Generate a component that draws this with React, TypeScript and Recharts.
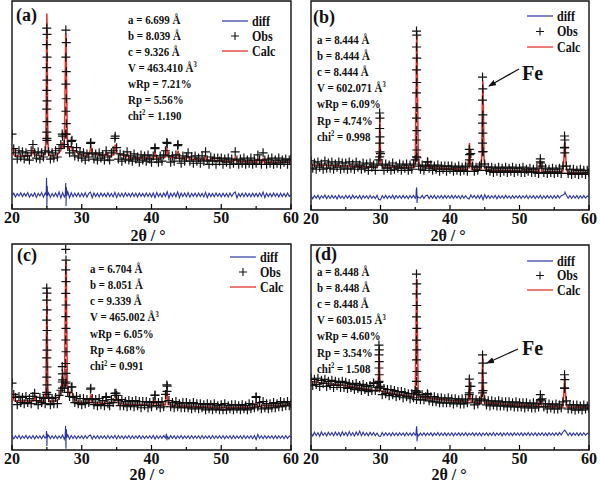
import React from 'react';
import { ComposedChart, Line, Scatter, XAxis, YAxis, ReferenceArea } from 'recharts';

// ---------- data ----------
const gridStart = 20;
const gridStep = 0.25;
const tickValues = [20, 25, 30, 35, 40, 45, 50, 55, 60];
const legendLabels = ['diff', 'Obs', 'Calc'];
const panelLetters = ['(a)', '(b)', '(c)', '(d)'];
const xAxisTitle = '2θ / °';
const feLabel = 'Fe';

const paramsA = ['a = 6.699 Å', 'b = 8.039 Å', 'c = 9.326 Å', 'V = 463.410 Å^3', 'wRp = 7.21%', 'Rp = 5.56%', 'chi^2 = 1.190'];
const paramsB = ['a = 8.444 Å', 'b = 8.444 Å', 'c = 8.444 Å', 'V = 602.071 Å^3', 'wRp = 6.09%', 'Rp = 4.74%', 'chi^2 = 0.998'];
const paramsC = ['a = 6.704 Å', 'b = 8.051 Å', 'c = 9.339 Å', 'V = 465.002 Å^3', 'wRp = 6.05%', 'Rp = 4.68%', 'chi^2 = 0.991'];
const paramsD = ['a = 8.448 Å', 'b = 8.448 Å', 'c = 8.448 Å', 'V = 603.015 Å^3', 'wRp = 4.60%', 'Rp = 3.54%', 'chi^2 = 1.508'];

// Panel (a)
const obsA = [
  36, 29, 27, 24, 28, 25, 27.5, 24, 27, 25.5, 23.5, 28, 31, 27, 24.5, 27.5, 24, 27, 25, 28,
  34, 27.5, 24, 27, 24.5, 28, 25, 29, 31, 35, 31, 36, 30, 27, 32.5, 28, 25.5, 29.5, 25, 27.5,
  24.5, 27, 23.5, 26.5, 25, 31.5, 27, 24, 26.5, 23.5, 27, 24.5, 26, 23.5, 28, 25, 23.5, 27, 28, 34,
  29.5, 24, 26.5, 23, 26, 24, 27.5, 23.5, 25.5, 23, 26.5, 24, 25, 22.5, 26, 23.5, 25.5, 23, 26, 24,
  22.5, 25.5, 29, 24, 22.5, 25.5, 23, 26, 28, 31.5, 25.5, 22.5, 25.5, 23, 26, 30.5, 24.5, 22, 25.5, 23,
  25, 27, 23, 25, 22, 25.5, 23, 24.5, 22, 25.5, 23, 27.5, 23.5, 21.5, 25, 23, 24.5, 21.5, 24.5, 23,
  24.5, 21.5, 24, 22.5, 24.5, 21.5, 24, 22, 27.5, 23.5, 21.5, 24, 22, 24.5, 21.5, 23.5, 22, 24.5, 21.5, 23.5,
  22, 26, 23.5, 21.5, 27, 23.5, 21.5, 24, 22, 24.5, 21.5, 23.5, 22, 24.5, 21.5, 23.5, 22.5, 24, 21.5, 23.5,
  24,
];
const obsPeaksA: [number, number][] = [
  [24.98, 87], [25.02, 84], [24.98, 79], [25.02, 73], [24.98, 68], [25.02, 62], [24.98, 57], [25.02, 52],
  [24.98, 48], [25.02, 42], [24.98, 37], [25.02, 33],
  [27.72, 86], [27.78, 80], [27.72, 73], [27.78, 66], [27.72, 60], [27.78, 53], [27.72, 47], [27.78, 41], [27.72, 36],
  [27.2, 36], [28.6, 33], [31.3, 32], [34.8, 35], [42.2, 32], [43.8, 31], [40.5, 29.5],
];
const calcA: [number, number][] = [
  [20, 30], [20.1, 27], [20.4, 25.5], [22, 25.5], [22.8, 26], [23, 28.5], [23.2, 26], [24.5, 25.5], [24.8, 27],
  [24.9, 45], [24.95, 80], [25.0, 94], [25.05, 80], [25.1, 45], [25.2, 27], [25.5, 25.5], [26.5, 26], [27.0, 28],
  [27.2, 32], [27.35, 29], [27.5, 33], [27.6, 55], [27.7, 84], [27.75, 84], [27.85, 55], [27.95, 32], [28.1, 29],
  [28.5, 30], [28.7, 28], [29.2, 28], [29.5, 26.5], [30.5, 25.5], [31.1, 26.5], [31.3, 30], [31.5, 26.5],
  [33.3, 25.5], [33.5, 27.5], [33.7, 25.5], [34.6, 26], [34.8, 31], [35.0, 27], [36.4, 25], [36.6, 26.5],
  [36.8, 24.5], [40.3, 24.5], [40.5, 27], [40.7, 24.5], [42.0, 25], [42.2, 29.5], [42.4, 25], [43.6, 24.5],
  [43.8, 28], [44.0, 24.5], [45.0, 24], [45.2, 25.5], [45.4, 24], [47.5, 23.5], [47.7, 25.5], [47.9, 23.5],
  [51.8, 23], [52.0, 25], [52.2, 23], [55.1, 22.5], [55.3, 24], [55.5, 22.5], [55.9, 22.5], [56.0, 24.5],
  [56.2, 22.5], [60, 22.5],
];
const diffA = [
  6.0, 7.6, 5.8, 7.4, 6.3, 7.8, 5.9, 7.5, 6.2, 7.9, 5.7, 7.3, 6.1, 7.8, 5.6, 7.5, 6.3, 7.9, 5.7, 7.6,
  6.7, 7.8, 5.6, 7.5, 6.0, 7.7, 5.9, 8.2, 5.3, 7.9, 5.8, 6.7, 8.3, 5.4, 7.8, 5.9, 7.6, 6.0, 7.7, 5.9,
  7.6, 5.9, 7.8, 5.7, 7.5, 8.1, 5.4, 7.7, 6.0, 7.6, 5.8, 7.7, 6.1, 7.5, 5.9, 7.8, 6.0, 7.5, 5.8, 8.0,
  5.6, 7.7, 6.0, 7.6, 5.8, 7.8, 6.1, 7.5, 5.9, 7.7, 6.0, 7.6, 5.8, 7.7, 6.1, 7.5, 5.9, 7.7, 6.0, 7.6,
  5.8, 7.7, 5.5, 7.9, 6.0, 7.5, 5.8, 7.7, 6.1, 8.3, 5.3, 7.5, 6.0, 7.7, 5.9, 8.2, 5.4, 7.6, 6.0, 7.7,
  5.9, 7.8, 5.7, 7.5, 6.1, 7.6, 5.9, 7.7, 6.0, 7.5, 5.8, 8.0, 5.5, 7.6, 6.0, 7.5, 5.9, 7.7, 6.1, 7.5,
  5.9, 7.6, 6.0, 7.5, 5.8, 7.7, 6.1, 7.5, 8.2, 5.3, 7.4, 6.0, 7.6, 5.9, 7.7, 6.0, 7.5, 5.9, 7.6, 6.0,
  7.5, 5.9, 7.7, 6.0, 8.1, 5.5, 7.6, 6.0, 7.5, 5.9, 7.7, 6.1, 7.5, 5.8, 7.6, 6.0, 7.5, 5.9, 7.7, 6.1,
  6.8,
];
const diffSpikesA: [number, number][] = [
  [24.9, 6.8], [24.95, 15], [25.0, 0.8], [25.05, 11], [25.1, 6.3],
  [27.65, 7], [27.7, 12.5], [27.75, 1.5], [27.8, 10.5], [27.85, 6.5],
];

// Panel (b)
const obsB = [
  23.5, 20, 22.5, 19.5, 23, 20.5, 22, 19.5, 23.5, 20, 22.5, 20, 23, 19.5, 22, 20.5, 23, 19.5, 22.5, 20,
  22.5, 19.5, 23, 20, 22, 19.5, 23, 20.5, 21.5, 19.5, 22.5, 20, 22, 19, 22.5, 20.5, 21.5, 19, 22, 24,
  27, 21.5, 19, 22, 20, 21.5, 19, 22.5, 19.5, 21, 20, 22, 19, 21.5, 20, 22, 19, 21.5, 19.5, 22,
  24, 25, 21, 19.5, 21.5, 19, 21, 23, 20, 21.5, 19, 21, 19.5, 21.5, 18.5, 21, 19.5, 21, 18.5, 21,
  19.5, 21, 18.5, 20.5, 19, 21, 18.5, 20.5, 19, 21, 18.5, 22, 27, 21, 18.5, 20.5, 19, 21, 22, 28,
  22, 19, 20.5, 18.5, 20.5, 18, 20, 18.5, 20.5, 18, 20, 18.5, 20.5, 18, 20, 18.5, 20.5, 18, 20, 18.5,
  20, 18, 20.5, 18, 19.5, 18.5, 20, 18, 19.5, 18, 20, 17.5, 23, 21, 18, 20, 17.5, 19.5, 18, 20,
  17.5, 19.5, 18, 20, 17.5, 21, 30, 21, 17.5, 19.5, 17, 19.5, 17.5, 19, 17, 19.5, 17.5, 19, 17, 19,
  18,
];
const obsPeaksB: [number, number][] = [
  [29.88, 46.4], [29.92, 44], [29.88, 39], [29.92, 35], [29.88, 32], [29.92, 27.8], [29.88, 25.4],
  [35.18, 85.6], [35.22, 83.7], [35.18, 78], [35.22, 72.7], [35.18, 67], [35.22, 61], [35.18, 56],
  [35.22, 49], [35.18, 44], [35.22, 38], [35.18, 33.5], [35.22, 28.7], [35.18, 25.4],
  [44.68, 63.6], [44.72, 58], [44.68, 52.6], [44.72, 45.5], [44.68, 41.6], [44.72, 36.8], [44.68, 32], [44.72, 27.8],
  [42.78, 29], [42.82, 26.5], [42.8, 24],
  [56.48, 35.4], [56.52, 33.5], [56.48, 29.7], [56.52, 27.3],
  [53.0, 24.5], [53.02, 22.5], [36.8, 23],
];
const calcB: [number, number][] = [
  [20, 21.5], [25, 21], [29.5, 20.5], [29.75, 22], [29.85, 35], [29.9, 45.5], [29.95, 35], [30.05, 22],
  [30.3, 20.5], [34.9, 20.3], [35.0, 23], [35.1, 50], [35.2, 83], [35.25, 83], [35.35, 50], [35.45, 24],
  [35.7, 21], [36.6, 20.3], [36.8, 22.5], [37, 20.2], [42.5, 19.5], [42.7, 25], [42.8, 32], [42.9, 25],
  [43.1, 19.5], [44.4, 19.2], [44.55, 24], [44.65, 50], [44.72, 62], [44.8, 50], [44.9, 24], [45.1, 19.2],
  [52.8, 18.4], [53.0, 24], [53.2, 18.4], [56.2, 18.2], [56.35, 22], [56.5, 33], [56.6, 30], [56.7, 22],
  [56.9, 18], [60, 17.8],
];
const diffB = [
  7.0, 5.4, 6.9, 5.6, 7.1, 5.3, 6.8, 5.7, 7.2, 5.4, 6.9, 5.5, 7.0, 5.6, 6.8, 5.3, 7.1, 5.6, 6.7, 5.4,
  7.0, 5.6, 6.9, 5.4, 7.1, 5.6, 6.7, 5.5, 7.0, 5.3, 6.9, 5.7, 6.8, 5.4, 7.0, 5.6, 6.6, 5.5, 7.0, 5.0,
  4.8, 6.9, 5.6, 7.0, 5.5, 6.8, 5.6, 7.1, 5.4, 6.9, 5.7, 6.8, 5.5, 7.0, 5.6, 6.8, 5.4, 6.9, 5.7, 7.0,
  5.6, 7.3, 6.0, 5.7, 7.0, 5.5, 6.8, 7.1, 5.5, 6.9, 5.6, 7.0, 5.4, 6.8, 5.7, 6.9, 5.5, 7.0, 5.6, 6.8,
  5.6, 7.0, 5.5, 6.9, 5.7, 6.8, 5.4, 7.0, 5.6, 6.8, 5.7, 5.3, 7.2, 5.8, 6.9, 5.5, 7.0, 5.6, 7.1, 4.9,
  7.3, 5.6, 6.9, 5.5, 6.8, 5.7, 7.0, 5.4, 6.9, 5.6, 6.8, 5.5, 7.0, 5.7, 6.7, 5.5, 6.9, 5.6, 6.8, 5.7,
  6.9, 5.5, 6.8, 5.7, 7.0, 5.4, 6.8, 5.7, 6.9, 5.5, 6.7, 5.7, 7.0, 5.4, 6.8, 5.6, 6.9, 5.7, 6.8, 5.5,
  6.9, 5.6, 7.0, 5.7, 6.8, 7.2, 7.9, 7.0, 5.6, 6.9, 5.5, 6.8, 5.7, 6.9, 5.5, 6.8, 5.6, 6.9, 5.7, 6.7,
  6.2,
];
const diffSpikesB: [number, number][] = [
  [35.1, 6.5], [35.15, 9.5], [35.2, 10.8], [35.25, 3.4], [35.3, 5.5], [35.35, 6.4], [56.45, 7.6], [56.55, 8.5],
];

// Panel (c)
const obsC = [
  32.5, 27, 25.5, 22, 26, 23, 25.5, 22.5, 26, 23, 25, 22.5, 26, 27.5, 24, 22, 25.5, 23, 25, 22.5,
  27, 25.5, 22, 25, 22.5, 25.5, 22.5, 26.5, 29, 34, 30, 33, 28, 26, 30.5, 25.5, 23, 26, 22.5, 25,
  22, 25, 22.5, 24.5, 23, 29.5, 25, 22, 24.5, 21.5, 25, 22, 24, 21.5, 25.5, 22.5, 21.5, 24.5, 23, 27.5,
  26.5, 24, 21.5, 24.5, 21.5, 23.5, 21, 24, 21.5, 23.5, 21, 24, 21.5, 23.5, 20.5, 23.5, 21.5, 23.5, 20.5, 23,
  21, 23.5, 26.5, 21.5, 23, 20.5, 23.5, 21, 27, 31, 24, 21, 23, 20.5, 23.5, 21, 22.5, 20.5, 23, 20.5,
  23, 20.5, 22.5, 20, 23, 20.5, 22.5, 20, 22.5, 20.5, 22, 19.5, 22.5, 20, 22, 19.5, 22.5, 20, 21.5, 19.5,
  22, 19.5, 22.5, 19.5, 21.5, 20, 22, 19.5, 22, 20, 21.5, 19.5, 22, 20, 21.5, 19.5, 22.5, 20, 22, 20.5,
  25.5, 21, 23, 20, 23.5, 20.5, 22.5, 20, 22.5, 20.5, 23, 20.5, 22.5, 21, 23.5, 21, 23, 21.5, 23.5, 21.5,
  22.5,
];
const obsPeaksC: [number, number][] = [
  [24.98, 78.6], [25.02, 76.2], [24.98, 72.8], [25.02, 68], [24.98, 63], [25.02, 58], [24.98, 53.4],
  [25.02, 48.5], [24.98, 44.7], [25.02, 40.3], [24.98, 35.4], [25.02, 31.6], [24.98, 28],
  [27.7, 97.4], [27.74, 92.2], [27.7, 87.4], [27.74, 81.7], [27.7, 76], [27.74, 70.4], [27.7, 64.7],
  [27.74, 59], [27.7, 53.4], [27.74, 47.7], [27.7, 42], [27.74, 37.2], [27.7, 32.4],
  [27.2, 40.5], [27.22, 37], [27.2, 33], [27.22, 30],
  [28.6, 30.7], [31.3, 30], [33.5, 25.9], [34.9, 27.6], [40.5, 26.7], [42.2, 31.6], [42.22, 28.5], [55.0, 25.9],
];
const calcC: [number, number][] = [
  [20, 28], [20.15, 24.5], [20.5, 23.8], [23.1, 23.8], [23.3, 26], [23.5, 23.7], [24.7, 23.6], [24.85, 30],
  [24.95, 60], [25.0, 77.5], [25.05, 60], [25.15, 30], [25.3, 23.5], [26.5, 24], [27.0, 27], [27.2, 36],
  [27.35, 30], [27.55, 40], [27.65, 75], [27.72, 92], [27.78, 90], [27.85, 60], [27.95, 32], [28.2, 27],
  [28.6, 28.5], [28.8, 25], [29.5, 23], [31.1, 23], [31.3, 27], [31.5, 23], [33.3, 22.5], [33.5, 24],
  [33.7, 22.5], [34.7, 23], [34.9, 26], [35.2, 24], [35.5, 22.3], [40.3, 21.7], [40.5, 24.5], [40.7, 21.7],
  [42, 22], [42.2, 29], [42.4, 22], [43.4, 21.5], [43.6, 23], [43.8, 21.5], [48, 20.8], [50, 20.5],
  [54.8, 20.5], [55, 23], [55.2, 20.8], [56, 21.5], [58, 21.5], [60, 22],
];
const diffC = [
  7.0, 5.5, 6.9, 5.6, 7.1, 5.4, 6.8, 5.7, 7.1, 5.5, 6.8, 5.6, 7.0, 5.4, 6.9, 5.7, 6.8, 5.5, 7.1, 5.7,
  6.3, 7.2, 5.5, 6.9, 5.6, 7.0, 5.5, 6.8, 5.7, 7.3, 5.2, 6.3, 7.3, 5.4, 7.0, 5.6, 6.9, 5.5, 6.8, 5.7,
  6.9, 5.5, 7.0, 5.6, 6.8, 7.3, 5.3, 6.9, 5.6, 7.0, 5.5, 6.8, 5.7, 6.9, 5.5, 7.0, 5.6, 6.8, 5.7, 7.1,
  5.4, 7.0, 5.6, 6.9, 5.5, 6.8, 5.7, 7.0, 5.5, 6.9, 5.6, 6.8, 5.7, 7.0, 5.5, 6.9, 5.6, 6.8, 5.7, 6.9,
  5.6, 7.1, 5.3, 6.9, 5.6, 6.8, 5.7, 7.0, 5.8, 6.3, 5.4, 7.0, 5.7, 6.9, 5.5, 6.8, 5.7, 7.0, 5.5, 6.8,
  5.7, 6.9, 5.5, 7.0, 5.6, 6.8, 5.7, 6.9, 5.5, 7.0, 5.6, 6.8, 5.7, 6.9, 5.5, 7.0, 5.6, 6.8, 5.7, 6.9,
  5.6, 7.0, 5.5, 6.8, 5.7, 6.9, 5.5, 7.0, 5.6, 6.8, 5.7, 6.9, 5.5, 7.0, 5.6, 6.8, 5.7, 6.9, 5.5, 7.0,
  5.1, 7.5, 5.6, 6.9, 5.5, 7.0, 5.6, 6.8, 5.7, 6.9, 5.5, 7.0, 5.6, 6.8, 5.7, 6.9, 5.5, 7.0, 5.6, 6.8,
  6.3,
];
const diffSpikesC: [number, number][] = [
  [24.9, 6.5], [24.95, 9.2], [25.0, 2], [25.05, 8], [25.1, 6.2],
  [27.62, 6.6], [27.68, 11.7], [27.74, 0.6], [27.8, 10], [27.86, 6],
  [42.15, 7.9], [42.22, 4.8], [42.3, 6.5],
];

// Panel (d)
const obsD = [
  35, 31.5, 34.5, 32, 35, 31, 34, 32.5, 34.5, 31, 33.5, 31.5, 34, 30.5, 33.5, 31.5, 33, 30.5, 33.5, 30.5,
  33, 30, 32.5, 30.5, 32, 29.5, 32.5, 30, 31.5, 29, 32, 29.5, 31, 28.5, 31.5, 29, 32.5, 29, 30.5, 33,
  31, 27, 30, 27.5, 29.5, 26.5, 29.5, 27, 29, 26, 28.5, 26.5, 28.5, 25.5, 28, 26, 27.5, 25, 27.5, 25.5,
  29, 28, 27, 24.5, 27, 24.5, 26, 27.5, 24, 26, 23.5, 26, 23.5, 25.5, 23, 25.5, 23, 25, 23, 25.5,
  23, 25, 22.5, 25, 23, 24.5, 22.5, 25, 22.5, 24.5, 23, 27, 31, 25, 22, 24.5, 22.5, 24, 25, 29,
  24.5, 22, 24, 21.5, 24, 22, 23.5, 21.5, 24, 21.5, 23.5, 21.5, 23.5, 21, 23.5, 21.5, 23, 21, 23.5, 21,
  23, 21, 23, 20.5, 23, 21, 22.5, 20.5, 23, 20.5, 22.5, 21, 24, 25, 21, 22.5, 20, 22.5, 20.5, 22,
  20, 22.5, 20, 22, 20.5, 23.5, 30, 24, 20, 22, 20, 22, 19.5, 22, 20, 21.5, 19.5, 22, 20, 21.5,
  20.5,
];
const obsPeaksD: [number, number][] = [
  [29.78, 51.2], [29.82, 48.8], [29.78, 46.4], [29.82, 43.1], [29.78, 40], [29.82, 36.7], [29.78, 33.5], [29.82, 30.3],
  [29.0, 32.7],
  [35.18, 85.8], [35.22, 81], [35.18, 76.2], [35.22, 70.5], [35.18, 64.9], [35.22, 59.3], [35.18, 53.6],
  [35.22, 48.8], [35.18, 44], [35.22, 38.3], [35.18, 33.5], [35.22, 28.7], [35.18, 24.6],
  [36.8, 27],
  [42.78, 34.6], [42.82, 31], [42.78, 27.9],
  [44.68, 46.4], [44.72, 42.4], [44.68, 37.5], [44.72, 32.7], [44.68, 27.9],
  [53.0, 27], [53.02, 24.6],
  [56.48, 36.7], [56.52, 34.3], [56.48, 30.3],
];
const calcD: [number, number][] = [
  [20, 33.5], [22, 32.5], [25, 31.3], [27.5, 30], [29, 29.2], [29.55, 29], [29.7, 36], [29.8, 48.5],
  [29.9, 36], [30.05, 28.7], [32, 27.3], [34.8, 26], [35.0, 30], [35.1, 55], [35.18, 83], [35.24, 83],
  [35.32, 55], [35.42, 30], [35.6, 26], [36.6, 25.3], [36.8, 27], [37, 25.2], [40, 24.2], [42.55, 23.5],
  [42.7, 28], [42.8, 34], [42.9, 28], [43.05, 23.4], [44.45, 23.1], [44.6, 32], [44.7, 46], [44.8, 32],
  [44.95, 23], [48, 22.3], [52.8, 21.4], [53.0, 26], [53.2, 21.4], [56.2, 21], [56.35, 26], [56.5, 35.5],
  [56.65, 26], [56.8, 21], [60, 20.6],
];
const diffD = [
  8.3, 6.8, 8.7, 7.0, 8.5, 6.7, 8.8, 7.1, 8.4, 6.8, 8.7, 7.2, 8.5, 6.9, 8.8, 7.1, 8.6, 6.8, 8.9, 7.2,
  8.6, 6.9, 9.0, 7.1, 8.5, 6.8, 8.8, 7.2, 9.2, 7.0, 8.7, 7.1, 8.4, 6.9, 8.6, 7.2, 8.5, 7.0, 8.3, 6.8,
  6.6, 8.5, 7.0, 8.4, 7.1, 8.3, 6.9, 8.5, 7.1, 8.3, 7.0, 8.4, 7.2, 8.3, 6.9, 8.5, 7.1, 8.3, 7.0, 8.4,
  7.2, 8.7, 6.9, 8.3, 7.1, 8.4, 7.0, 8.3, 7.2, 8.4, 6.9, 8.3, 7.2, 8.5, 7.0, 8.3, 7.1, 8.4, 7.0, 8.3,
  7.1, 8.4, 6.9, 8.3, 7.2, 8.4, 7.0, 8.3, 7.1, 8.5, 7.0, 8.2, 7.3, 8.4, 7.0, 8.3, 7.1, 8.4, 6.9, 8.3,
  7.2, 8.4, 7.0, 8.3, 7.1, 8.5, 7.0, 8.3, 7.2, 8.4, 6.9, 8.3, 7.2, 8.4, 7.1, 8.3, 7.0, 8.4, 7.2, 8.3,
  7.1, 8.4, 7.0, 8.3, 7.2, 8.5, 7.0, 8.3, 7.1, 8.4, 7.0, 8.3, 7.2, 8.4, 7.1, 8.3, 7.0, 8.4, 7.2, 8.3,
  7.1, 8.4, 7.2, 8.5, 7.3, 8.8, 9.7, 8.6, 7.1, 8.4, 7.0, 8.3, 7.2, 8.4, 7.0, 8.3, 7.1, 8.4, 7.2, 8.2,
  7.7,
];
const diffSpikesD: [number, number][] = [
  [35.1, 7.8], [35.15, 10], [35.2, 11.6], [35.25, 4.3], [35.3, 6.5], [35.35, 7.7],
];

// ---------- helpers ----------
type P = { x: number; y: number };
const gridPoints = (vals: number[]): P[] =>
  vals.map((y, i) => ({ x: Math.round((gridStart + i * gridStep) * 100) / 100, y }));
const pairPoints = (arr: [number, number][]): P[] => arr.map(([x, y]) => ({ x, y }));
const mergeSorted = (a: P[], b: P[]): P[] => [...a, ...b].sort((p, q) => p.x - q.x);

const FONT = "'Liberation Serif', 'Times New Roman', serif";
const RED = '#e0332c';
const BLUE = '#2b34a2';
const BLACK = '#111111';

const Plus = (props: any) => {
  const { cx, cy } = props;
  if (cx == null || cy == null) return null;
  return <path d={`M${cx - 4.5},${cy}h9M${cx},${cy - 4.5}v9`} stroke={BLACK} strokeWidth={1.2} fill="none" />;
};

const renderSup = (s: string) => {
  const i = s.indexOf('^');
  if (i < 0) return s;
  return (
    <>
      {s.slice(0, i)}
      <span style={{ fontSize: '0.6em', position: 'relative', top: '-0.6em' }}>{s[i + 1]}</span>
      {s.slice(i + 2)}
    </>
  );
};

type PanelCfg = {
  left: number;
  top: number;
  width: number;
  height: number;
  margin: { top: number; right: number; bottom: number; left: number };
  axisH: number;
  obs: P[];
  calc: P[];
  diff: P[];
};

const Panel = ({ cfg }: { cfg: PanelCfg }) => {
  const plotBottom = cfg.height - cfg.axisH;
  const renderTick = (p: any) => {
    const v = p.payload.value;
    const major = v % 10 === 0;
    return (
      <g>
        <line x1={p.x} x2={p.x} y1={plotBottom} y2={plotBottom - (major ? 5 : 3)} stroke="#000" strokeWidth={1.2} />
        {major && (
          <text x={p.x} y={plotBottom + 14} textAnchor="middle" fontFamily={FONT} fontWeight="bold" fontSize={16} fill="#111">
            {v}
          </text>
        )}
      </g>
    );
  };
  return (
    <div style={{ position: 'absolute', left: cfg.left, top: cfg.top }}>
      <ComposedChart width={cfg.width} height={cfg.height} margin={cfg.margin}>
        <XAxis
          type="number"
          dataKey="x"
          domain={[20, 60]}
          ticks={tickValues}
          interval={0}
          height={cfg.axisH}
          tickLine={false}
          axisLine={false}
          tickSize={0}
          tickMargin={0}
          tick={renderTick}
          allowDataOverflow
        />
        <YAxis type="number" domain={[0, 100]} hide allowDataOverflow />
        <ReferenceArea x1={20} x2={60} y1={0} y2={100} fill="none" stroke="#111" strokeWidth={1.4} />
        <Scatter data={cfg.obs} dataKey="y" shape={Plus} isAnimationActive={false} />
        <Line data={cfg.calc} dataKey="y" type="linear" stroke={RED} strokeWidth={1.5} dot={false} activeDot={false} isAnimationActive={false} />
        <Line data={cfg.diff} dataKey="y" type="linear" stroke={BLUE} strokeWidth={1.1} dot={false} activeDot={false} isAnimationActive={false} />
      </ComposedChart>
    </div>
  );
};

const LegendBox = ({ x, y, gap }: { x: number; y: number; gap: number }) => (
  <>
    <svg style={{ position: 'absolute', left: x, top: y - 6, overflow: 'visible' }} width={26} height={gap * 2 + 12}>
      <line x1={0} x2={26} y1={6} y2={6} stroke={BLUE} strokeWidth={1.2} />
      <path d={`M${13 - 4},${6 + gap}h8M13,${6 + gap - 4}v8`} stroke={BLACK} strokeWidth={1.1} />
      <line x1={0} x2={26} y1={6 + gap * 2} y2={6 + gap * 2} stroke={RED} strokeWidth={1.3} />
    </svg>
    {legendLabels.map((t, i) => (
      <div
        key={t}
        style={{
          position: 'absolute',
          left: x + 30,
          top: y + i * gap - 6.5,
          lineHeight: '13px',
          height: 13,
          fontFamily: FONT,
          fontWeight: 'bold',
          fontSize: 14,
          color: '#111',
          whiteSpace: 'nowrap',
          transform: 'scaleX(0.86)',
          transformOrigin: 'left center',
        }}
      >
        {t}
      </div>
    ))}
  </>
);

const Params = ({ x, y, step, lines }: { x: number; y: number; step: number; lines: string[] }) => (
  <>
    {lines.map((t, i) => (
      <div
        key={i}
        style={{
          position: 'absolute',
          left: x,
          top: y + i * step - 6.5,
          lineHeight: '13px',
          height: 13,
          fontFamily: FONT,
          fontWeight: 'bold',
          fontSize: 13,
          color: '#111',
          whiteSpace: 'nowrap',
          transform: 'scaleX(0.84)',
          transformOrigin: 'left center',
        }}
      >
        {renderSup(t)}
      </div>
    ))}
  </>
);

const TextAt = ({ x, y, size, children, center }: any) => (
  <div
    style={{
      position: 'absolute',
      left: x,
      top: y - size * 0.45,
      lineHeight: `${Math.round(size * 0.9)}px`,
      height: Math.round(size * 0.9),
      fontFamily: FONT,
      fontWeight: 'bold',
      fontSize: size,
      color: '#111',
      whiteSpace: 'nowrap',
      transform: center ? 'translateX(-50%)' : undefined,
    }}
  >
    {children}
  </div>
);

const panels: PanelCfg[] = [
  {
    left: 0, top: 0, width: 300, height: 245, margin: { top: 1, right: 9, bottom: 0, left: 12 }, axisH: 36,
    obs: [...gridPoints(obsA), ...pairPoints(obsPeaksA)], calc: pairPoints(calcA),
    diff: mergeSorted(gridPoints(diffA), pairPoints(diffSpikesA)),
  },
  {
    left: 300, top: 0, width: 300, height: 245, margin: { top: 1, right: 11, bottom: 0, left: 11 }, axisH: 35,
    obs: [...gridPoints(obsB), ...pairPoints(obsPeaksB)], calc: pairPoints(calcB),
    diff: mergeSorted(gridPoints(diffB), pairPoints(diffSpikesB)),
  },
  {
    left: 0, top: 240, width: 300, height: 242, margin: { top: 4, right: 9, bottom: 0, left: 12 }, axisH: 32,
    obs: [...gridPoints(obsC), ...pairPoints(obsPeaksC)], calc: pairPoints(calcC),
    diff: mergeSorted(gridPoints(diffC), pairPoints(diffSpikesC)),
  },
  {
    left: 300, top: 240, width: 300, height: 242, margin: { top: 5, right: 11, bottom: 0, left: 11 }, axisH: 32,
    obs: [...gridPoints(obsD), ...pairPoints(obsPeaksD)], calc: pairPoints(calcD),
    diff: mergeSorted(gridPoints(diffD), pairPoints(diffSpikesD)),
  },
];

export default function App() {
  return (
    <div style={{ position: 'absolute', left: 0, top: 0, width: 600, height: 482, background: '#fff', overflow: 'hidden' }}>
      {panels.map((p, i) => (
        <Panel key={i} cfg={p} />
      ))}

      <TextAt x={16} y={15} size={18}>{panelLetters[0]}</TextAt>
      <TextAt x={313} y={17} size={18}>{panelLetters[1]}</TextAt>
      <TextAt x={17} y={255} size={18}>{panelLetters[2]}</TextAt>
      <TextAt x={315} y={254} size={18}>{panelLetters[3]}</TextAt>

      <Params x={128} y={19} step={16} lines={paramsA} />
      <Params x={317} y={39} step={16.2} lines={paramsB} />
      <Params x={90} y={268} step={16.3} lines={paramsC} />
      <Params x={317} y={271.5} step={16.1} lines={paramsD} />

      <LegendBox x={222} y={21} gap={15} />
      <LegendBox x={527} y={16} gap={15.5} />
      <LegendBox x={230} y={257} gap={15} />
      <LegendBox x={527} y={261} gap={14.5} />

      <TextAt x={148} y={236} size={16} center>{xAxisTitle}</TextAt>
      <TextAt x={448} y={236} size={16} center>{xAxisTitle}</TextAt>
      <TextAt x={147} y={475} size={16} center>{xAxisTitle}</TextAt>
      <TextAt x={449} y={475} size={16} center>{xAxisTitle}</TextAt>

      <TextAt x={522} y={73} size={20}>{feLabel}</TextAt>
      <TextAt x={522} y={348} size={20}>{feLabel}</TextAt>

      <svg style={{ position: 'absolute', left: 0, top: 0, pointerEvents: 'none' }} width={600} height={482}>
        <defs>
          <marker id="ah" markerWidth="8" markerHeight="6" refX="7" refY="3" orient="auto" markerUnits="userSpaceOnUse">
            <path d="M0,0 L8,3 L0,6 Z" fill="#111" />
          </marker>
        </defs>
        <line x1={519} y1={69} x2={489} y2={86} stroke="#111" strokeWidth={1.3} markerEnd="url(#ah)" />
        <line x1={518} y1={349} x2={487} y2={363} stroke="#111" strokeWidth={1.3} markerEnd="url(#ah)" />
      </svg>
    </div>
  );
}
